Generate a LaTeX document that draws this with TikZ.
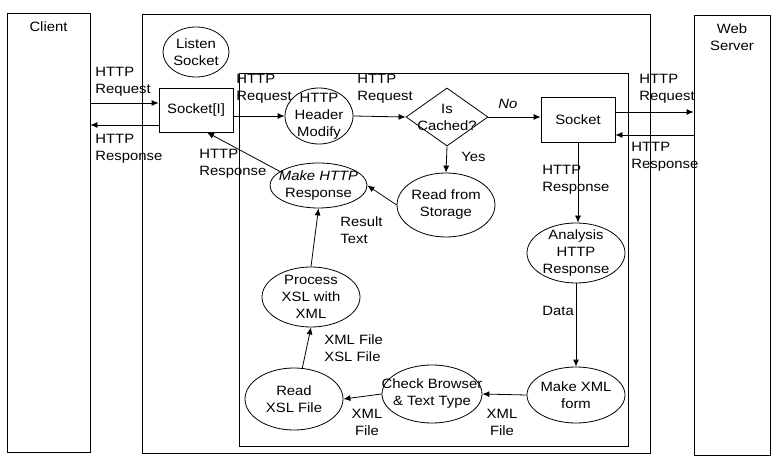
\documentclass[tikz,border=0pt]{standalone}
\usepackage{fontspec}
\setmainfont{Liberation Sans}[FakeStretch=1.1]
\usetikzlibrary{calc}
\usetikzlibrary{positioning}
\usetikzlibrary{shapes.geometric}
\usetikzlibrary{arrows.meta}

\begin{document}
\begin{tikzpicture}[x=1pt,y=-1pt,line width=0.8pt,font=\fontsize{13.5}{17}\selectfont]
			\tikzset{every edge/.style={draw,-{Latex[length=7pt,width=6pt]},line width=0.8pt}}
			\tikzset{frame/.style={draw,rectangle,inner sep=0pt}}
			\tikzset{proc/.style={draw,ellipse,inner sep=0pt}}
			\tikzset{sock/.style={draw,rectangle,inner sep=0pt}}
			\tikzset{ctr/.style={align=center,inner sep=0pt}}
			\tikzset{lbl/.style={align=left,inner sep=0pt,anchor=north west}}
			\useasboundingbox (0,0) rectangle (771,462);
			% Place Nodes
			\node[frame,minimum width=83pt,minimum height=439pt] (client) at (48.5,232.5) {};
			\node[frame,minimum width=508pt,minimum height=439pt] (proxy) at (396,233.5) {};
			\node[frame,minimum width=389pt,minimum height=373pt] (inner) at (433.5,259.5) {};
			\node[frame,minimum width=76pt,minimum height=440pt] (server) at (732,235) {};
			\node[ctr,below=9pt of client.north] (clientname) {Client};
			\node[ctr,below=9pt of server.north] (servername) {Web\\Server};
			\node[proc,minimum width=66pt,minimum height=50pt,label={[ctr]center:{Listen\\Socket}}] (listen) at (196,52) {};
			\node[sock,minimum width=74pt,minimum height=44pt] (sockI) at (196,110) {Socket[I]};
			\node[proc,minimum width=68pt,minimum height=56pt,label={[ctr]center:{HTTP\\Header\\Modify}}] (header) at (319,116) {};
			\node[draw,diamond,inner sep=0pt,minimum width=82pt,minimum height=58pt,label={[ctr]center:{Is\\Cached?}}] (cached) at (447,117) {};
			\node[sock,minimum width=74pt,minimum height=45pt] (sockR) at (578,119.5) {Socket};
			\node[proc,minimum width=98pt,minimum height=64pt,label={[ctr]center:{Read from\\Storage}}] (storage) at (446,205) {};
			\node[proc,minimum width=97pt,minimum height=45pt,label={[ctr]center:{\textit{Make HTTP}\\Response}}] (makeresp) at (318.5,185.5) {};
			\node[proc,minimum width=98pt,minimum height=60pt,label={[ctr]center:{Analysis\\HTTP\\Response}}] (analysis) at (576,253) {};
			\node[proc,minimum width=98pt,minimum height=56pt,label={[ctr]center:{Make XML\\form}}] (makexml) at (576,395) {};
			\node[proc,minimum width=100pt,minimum height=58pt,label={[ctr]center:{Check Browser\\\& Text Type}}] (check) at (432,394) {};
			\node[proc,minimum width=98pt,minimum height=62pt,label={[ctr]center:{Read\\XSL File}}] (readxsl) at (294,399) {};
			\node[proc,minimum width=98pt,minimum height=60pt,label={[ctr]center:{Process\\XSL with\\XML}}] (process) at (311,297) {};
			% Label nodes
			\node[lbl] (lreq1) at (95,67) {HTTP\\Request};
			\node[lbl] (lres1) at (95,134) {HTTP\\Response};
			\node[lbl] (lreq2) at (236,74) {HTTP\\Request};
			\node[lbl] (lreq3) at (357,74) {HTTP\\Request};
			\node[lbl] (lno) at (498,99) {\textit{No}};
			\node[lbl] (lyes) at (461,152) {Yes};
			\node[lbl] (lres2) at (199,149) {HTTP\\Response};
			\node[lbl] (lresult) at (340,216) {Result\\Text};
			\node[lbl] (lres3) at (542,165) {HTTP\\Response};
			\node[lbl] (lreq4) at (639,74) {HTTP\\Request};
			\node[lbl] (lres4) at (631,142) {HTTP\\Response};
			\node[lbl] (ldata) at (542,306) {Data};
			\node[lbl] (lfiles) at (324,334) {XML File\\XSL File};
			\node[ctr,anchor=north] (lxml1) at (367,409) {XML\\File};
			\node[ctr,anchor=north] (lxml2) at (502,409) {XML\\File};
			% Draw flow paths
			\coordinate (rq1) at ($(sockI.west)+(0,-7)$);
			\coordinate (rs1) at ($(sockI.west)+(0,15)$);
			\coordinate (rq2) at ($(sockR.east)+(0,-7.5)$);
			\coordinate (rs2) at ($(sockR.east)+(0,15.5)$);
			\coordinate (tipI) at ($(sockI.south)+(11,0)$);
			\path
			(client.east |- rq1) edge (rq1)
			(rs1) edge (client.east |- rs1)
			(sockI.east |- header.west) edge (header.west)
			(header.east) edge (cached.west)
			(cached.east) edge (sockR.west |- cached.east)
			(rq2) edge (server.west |- rq2)
			(server.west |- rs2) edge (rs2)
			(cached.south) edge (storage.north)
			(storage.west) edge (makeresp.east)
			(makeresp.160) edge (tipI)
			(process.north) edge (makeresp.south)
			(readxsl.75) edge (process.south)
			(check.west) edge (readxsl.east)
			(makexml.west) edge (check.east)
			(sockR.south) edge (sockR.south |- analysis.north)
			(analysis.south) edge (makexml.north);
			\end{tikzpicture}
\end{document}
